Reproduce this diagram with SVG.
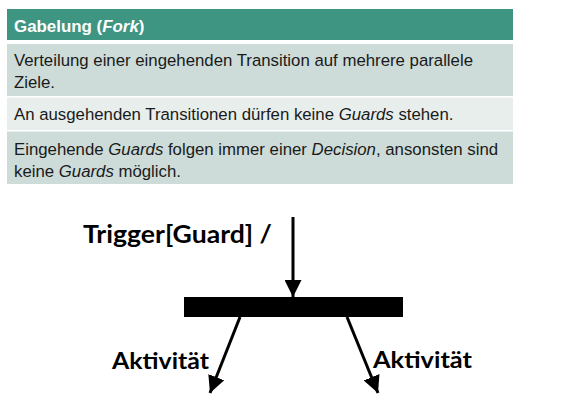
<svg xmlns="http://www.w3.org/2000/svg" width="586" height="408" viewBox="0 0 586 408">
<defs>
<style>
.hdr{font-family:"Liberation Sans",Arial,sans-serif;font-size:16.9px;font-weight:bold;fill:#ffffff}
.row{font-family:"Liberation Sans",Arial,sans-serif;font-size:16.8px;fill:#1a1a1a}
.lbl{font-family:Lato,"Open Sans",sans-serif;font-weight:bold;fill:#000}
.conn{stroke:#000;stroke-width:3;fill:none}
</style>
<marker id="ah" viewBox="0 0 10 10" refX="10" refY="5" markerWidth="17" markerHeight="17" markerUnits="userSpaceOnUse" orient="auto">
<path d="M0,0 L10,5 L0,10 z" fill="#000"/>
</marker>
</defs>
<rect width="586" height="408" fill="#fff"/>
<g id="table">
<rect x="7" y="9" width="506" height="31" fill="#3e9582"/>
<text class="hdr" x="14" y="31.5">Gabelung (<tspan font-style="italic">Fork</tspan>)</text>
<rect x="7" y="44" width="506" height="52" fill="#cddcd8"/>
<text class="row" x="14" y="65.5">Verteilung einer eingehenden Transition auf mehrere parallele</text>
<text class="row" x="14" y="87.5">Ziele.</text>
<rect x="7" y="97.5" width="506" height="32.5" fill="#e7eeec"/>
<text class="row" x="14" y="120">An ausgehenden Transitionen dürfen keine <tspan font-style="italic">Guards</tspan> stehen.</text>
<rect x="7" y="131.5" width="506" height="52.5" fill="#cddcd8"/>
<text class="row" x="14" y="155">Eingehende <tspan font-style="italic">Guards</tspan> folgen immer einer <tspan font-style="italic">Decision</tspan>, ansonsten sind</text>
<text class="row" x="14" y="177">keine <tspan font-style="italic">Guards</tspan> möglich.</text>
</g>
<g id="fork">
<rect x="184" y="297" width="219" height="20" fill="#000"/>
</g>
<g id="labels">
<text class="lbl" x="83" y="243" font-size="25" textLength="189" lengthAdjust="spacingAndGlyphs">Trigger[Guard] /</text>
<text class="lbl" x="112" y="369" font-size="22" textLength="97" lengthAdjust="spacingAndGlyphs">Aktivität</text>
<text class="lbl" x="373" y="368" font-size="22" textLength="99" lengthAdjust="spacingAndGlyphs">Aktivität</text>
</g>
<g id="connectors">
<line class="conn" x1="293" y1="217" x2="293" y2="297" marker-end="url(#ah)"/>
<line class="conn" x1="240" y1="317" x2="210" y2="393" marker-end="url(#ah)"/>
<line class="conn" x1="347" y1="317" x2="378" y2="393" marker-end="url(#ah)"/>
</g>
</svg>
